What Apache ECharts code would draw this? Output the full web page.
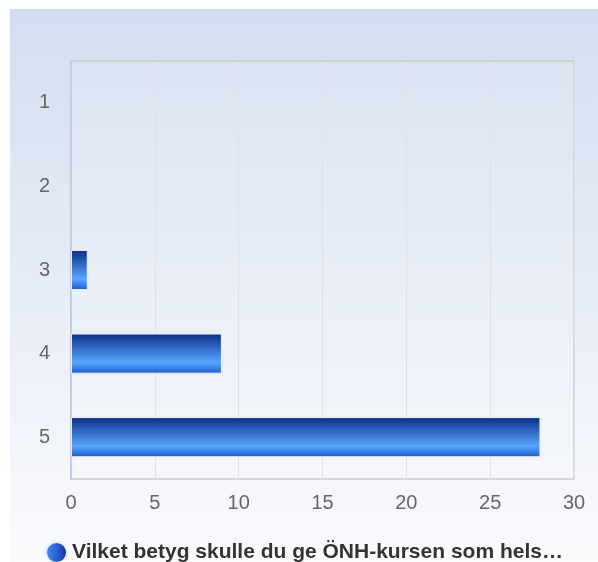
<!DOCTYPE html>
<html>
<head>
<meta charset="utf-8">
<script src="https://cdn.jsdelivr.net/npm/echarts@6/dist/echarts.min.js"></script>
<style>
html,body{margin:0;padding:0;background:#fff;}
#c{width:598px;height:562px;}
</style>
</head>
<body>
<div id="c"></div>
<script>
var categories = ['1', '2', '3', '4', '5'];
var values = [0, 0, 1, 9, 28];
var seriesName = 'Vilket betyg skulle du ge ÖNH-kursen som hels…';
var xTicks = { min: 0, max: 30, interval: 5 };

var chart = echarts.init(document.getElementById('c'));
var font = '"Liberation Sans", Arial, Helvetica, sans-serif';

var barData = values.map(function (v) {
  return v === 0 ? { value: v, itemStyle: { borderWidth: 0, opacity: 0 } } : { value: v };
});

chart.setOption({
  backgroundColor: '#ffffff',
  animation: false,
  graphic: [{
    type: 'rect',
    z: -10,
    silent: true,
    shape: { x: 10, y: 9, width: 600, height: 560 },
    style: {
      fill: new echarts.graphic.LinearGradient(0, 0, 0, 1, [
        { offset: 0, color: '#d2def0' },
        { offset: 1, color: '#fbfbfd' }
      ])
    }
  }],
  grid: {
    left: 71, right: 24, top: 61, bottom: 83,
    show: true,
    borderColor: '#cccccc',
    borderWidth: 1.5,
    backgroundColor: 'rgba(255,255,255,0.12)'
  },
  legend: {
    bottom: -2,
    left: 45,
    padding: 0,
    itemWidth: 21,
    itemHeight: 21,
    icon: 'circle',
    data: [{
      name: seriesName,
      itemStyle: {
        color: new echarts.graphic.LinearGradient(0, 0, 1, 0, [
          { offset: 0, color: '#4a8ef5' },
          { offset: 0.5, color: '#2a62d4' },
          { offset: 1, color: '#0c2a86' }
        ])
      }
    }],
    textStyle: {
      fontFamily: font,
      fontSize: 21,
      fontWeight: 'bold',
      color: '#333333'
    }
  },
  xAxis: {
    type: 'value',
    min: xTicks.min, max: xTicks.max, interval: xTicks.interval,
    axisLine: { show: false },
    axisTick: { show: false },
    axisLabel: { color: '#666666', fontSize: 20, fontFamily: font, margin: 14 },
    splitLine: { show: true, lineStyle: { color: '#dfe1e6', width: 1 } }
  },
  yAxis: {
    type: 'category',
    data: categories,
    inverse: true,
    axisLine: { show: true, lineStyle: { color: '#b9c8e6', width: 1.5 } },
    axisTick: { show: false },
    axisLabel: { color: '#666666', fontSize: 20, fontFamily: font, margin: 21 },
    splitLine: { show: false }
  },
  series: [{
    name: seriesName,
    type: 'bar',
    data: barData,
    barWidth: '48%',
    itemStyle: {
      color: new echarts.graphic.LinearGradient(0, 0, 0, 1, [
        { offset: 0, color: '#0b2c86' },
        { offset: 0.72, color: '#56a6ff' },
        { offset: 1, color: '#1d5ccc' }
      ]),
      borderColor: '#e8f0ff',
      borderWidth: 1
    }
  }]
});
</script>
</body>
</html>
